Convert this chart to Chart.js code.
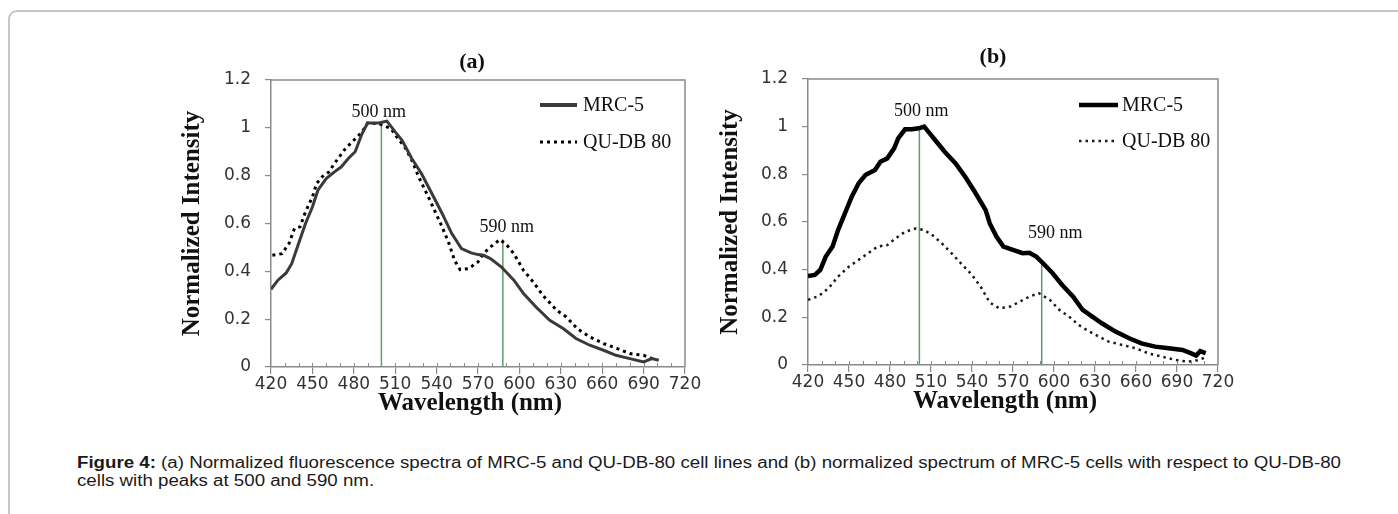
<!DOCTYPE html>
<html>
<head>
<meta charset="utf-8">
<script src="https://cdn.jsdelivr.net/npm/chart.js@4.4.1/dist/chart.umd.min.js"></script>
<style>
html,body{margin:0;padding:0;background:#fff;width:1398px;height:514px;overflow:hidden;}
#frame{position:absolute;left:8px;top:10px;width:1430px;height:600px;border:2px solid #c6c6c6;border-radius:9px;box-sizing:border-box;}
.panel{position:absolute;top:20px;height:400px;}
#pa{left:150px;width:560px;}
#pb{left:680px;width:590px;}
#caption{position:absolute;left:77px;top:454px;font-family:"Liberation Sans",Arial,sans-serif;font-size:16px;line-height:18px;color:#1a1a1a;white-space:nowrap;transform:scaleX(1.168);transform-origin:0 0;}
</style>
</head>
<body>
<div id="frame"></div>
<div class="panel" id="pa"><canvas id="ca" width="560" height="400"></canvas></div>
<div class="panel" id="pb"><canvas id="cb" width="590" height="400"></canvas></div>
<div id="caption"><b>Figure 4:</b> (a) Normalized fluorescence spectra of MRC-5 and QU-DB-80 cell lines and (b) normalized spectrum of MRC-5 cells with respect to QU-DB-80<br>cells with peaks at 500 and 590 nm.</div>
<script>
// ---------------- data ----------------
const panelTitles = ['(a)', '(b)'];
const seriesNames = ['MRC-5', 'QU-DB 80'];
const xTickLabels = [420, 450, 480, 510, 540, 570, 600, 630, 660, 690, 720];
const yTickLabels = ['0', '0.2', '0.4', '0.6', '0.8', '1', '1.2'];
const xTitle = 'Wavelength (nm)';
const yTitle = 'Normalized Intensity';
const peakLabels = ['500 nm', '590 nm'];

// panel (a) – MRC-5
const aMrcWl  = [420,425,431,435,440,445,450,454,460,466,471,476,481,486,490,498,504,510,515,522,529,536,544,551,558,565,570,574,579,587,596,603,612,622,632,641,651,661,670,680,690,696,701];
const aMrcVal = [0.325,0.363,0.393,0.432,0.516,0.600,0.669,0.739,0.788,0.816,0.837,0.872,0.900,0.976,1.020,1.020,1.028,0.983,0.948,0.872,0.809,0.732,0.642,0.558,0.495,0.477,0.470,0.467,0.453,0.418,0.363,0.307,0.251,0.195,0.160,0.119,0.091,0.070,0.049,0.035,0.021,0.035,0.028];
// panel (a) – QU-DB 80
const aQuWl  = [421,428,433,437,441,445,450,453,457,462,466,474,480,486,490,498,507,512,517,522,527,534,539,544,549,553,557,563,570,574,579,586,591,596,603,610,617,627,634,642,651,661,671,680,690,698];
const aQuVal = [0.467,0.474,0.516,0.579,0.586,0.649,0.711,0.767,0.795,0.816,0.851,0.914,0.948,0.983,1.020,1.018,0.997,0.955,0.920,0.865,0.795,0.711,0.649,0.586,0.516,0.446,0.407,0.411,0.439,0.474,0.502,0.533,0.509,0.474,0.404,0.356,0.300,0.237,0.209,0.160,0.126,0.098,0.077,0.056,0.049,0.031];
// panel (b) – MRC-5
const bMrcWl  = [420,425,429,433,438,442,447,452,457,462,469,473,478,483,486,491,496,501,505,508,513,520,528,535,542,550,553,558,563,570,577,582,587,592,599,606,614,621,628,635,645,655,664,674,684,694,700,704,707,711];
const bMrcVal = [0.373,0.378,0.399,0.455,0.497,0.566,0.636,0.706,0.762,0.797,0.818,0.853,0.867,0.909,0.951,0.989,0.989,0.993,1.000,0.979,0.944,0.895,0.846,0.790,0.727,0.650,0.594,0.538,0.497,0.483,0.469,0.471,0.455,0.427,0.385,0.336,0.287,0.231,0.203,0.175,0.140,0.112,0.091,0.077,0.070,0.063,0.050,0.040,0.058,0.050];
// panel (b) – QU-DB 80
const bQuWl  = [420,428,435,442,450,457,464,471,478,484,491,499,505,511,518,525,533,540,547,553,560,568,575,582,589,597,604,611,618,626,633,640,650,660,669,679,689,698,705,710];
const bQuVal = [0.273,0.290,0.322,0.371,0.413,0.441,0.469,0.497,0.503,0.531,0.559,0.573,0.566,0.545,0.510,0.469,0.420,0.378,0.322,0.262,0.238,0.245,0.266,0.287,0.301,0.273,0.231,0.203,0.168,0.140,0.119,0.098,0.084,0.070,0.049,0.035,0.021,0.014,0.020,0.030];
// peak marker lines (wavelength, height)
const aPeakWl = [500, 588], aPeakTop = [1.02, 0.533];
const bPeakWl = [501.5, 591], bPeakTop = [0.995, 0.434];

// ---------------- helpers ----------------
const pts = (xs, ys) => xs.map((x, i) => ({x: x, y: ys[i]}));
const vline = (x, top) => [{x: x, y: 0}, {x: x, y: top}];
const AX = '#8a8a8a';
const GREEN = '#5e9c6e';

const decoPlugin = {
  id: 'deco',
  afterDraw(chart, args, o) {
    const {ctx, chartArea: a, scales: {x, y}} = chart;
    ctx.save();
    // frame top & right
    ctx.strokeStyle = AX; ctx.lineWidth = 1.5;
    ctx.beginPath();
    ctx.moveTo(a.left, a.top); ctx.lineTo(a.right, a.top); ctx.lineTo(a.right, a.bottom);
    ctx.stroke();
    // minor ticks every 10 nm (inside)
    ctx.lineWidth = 1;
    ctx.beginPath();
    for (let v = x.min + 10; v < x.max; v += 10) {
      const px = Math.round(x.getPixelForValue(v)) + 0.5;
      ctx.moveTo(px, a.bottom); ctx.lineTo(px, a.bottom - 4);
    }
    ctx.stroke();
    ctx.fillStyle = '#111';
    ctx.textAlign = 'center'; ctx.textBaseline = 'middle';
    // panel title
    ctx.font = 'bold 22px "Liberation Serif", serif';
    ctx.fillText(o.title, (a.left + a.right) / 2 + o.titleDx, a.top + o.titleDy);
    // x title
    ctx.font = 'bold 25px "Liberation Serif", serif';
    ctx.fillText(xTitle, (a.left + a.right) / 2 - 8, a.bottom + 37);
    // y title
    ctx.save();
    ctx.translate(a.left + o.yTitleDx, (a.top + a.bottom) / 2);
    ctx.rotate(-Math.PI / 2);
    ctx.fillText(yTitle, 0, 0);
    ctx.restore();
    // peak labels
    ctx.font = '18px "Liberation Serif", serif';
    o.peaks.forEach((p, i) => {
      ctx.fillText(peakLabels[i], x.getPixelForValue(p[0]), y.getPixelForValue(p[1]));
    });
    // legend
    ctx.font = '20px "Liberation Serif", serif';
    ctx.textAlign = 'left';
    chart.data.datasets.filter(d => d.inLegend).forEach((d, i) => {
      const ly = a.top + o.legendRows[i];
      ctx.save();
      ctx.strokeStyle = d.borderColor;
      ctx.lineWidth = d.legendWidth || d.borderWidth;
      ctx.setLineDash(d.borderDash || []);
      ctx.beginPath();
      ctx.moveTo(a.right + o.legendLine[0], ly);
      ctx.lineTo(a.right + o.legendLine[1], ly);
      ctx.stroke();
      ctx.restore();
      ctx.fillText(d.label, a.right + o.legendText, ly + 1);
    });
    ctx.restore();
  }
};

function makeChart(id, datasets, pad, yW, xH, deco) {
  return new Chart(document.getElementById(id), {
    type: 'line',
    data: {datasets: datasets},
    plugins: [decoPlugin],
    options: {
      responsive: false,
      animation: false,
      events: [],
      layout: {padding: pad},
      elements: {point: {radius: 0}, line: {tension: 0}},
      plugins: {legend: {display: false}, tooltip: {enabled: false}, deco: deco},
      scales: {
        x: {
          type: 'linear', min: 420, max: 720,
          afterFit: s => { s.height = xH; },
          ticks: {stepSize: 30, autoSkip: false, maxRotation: 0, padding: 0,
                  color: '#333', font: {family: 'DejaVu Sans', size: 17},
                  callback: v => xTickLabels.includes(v) ? String(v) : ''},
          grid: {drawOnChartArea: false, drawTicks: true, tickLength: 7, color: AX, lineWidth: 1.2},
          border: {display: true, color: AX, width: 1.5}
        },
        y: {
          type: 'linear', min: 0, max: 1.2,
          afterFit: s => { s.width = yW; },
          ticks: {stepSize: 0.2, padding: 14, color: '#333', font: {family: 'DejaVu Sans', size: 17},
                  callback: (v, i) => yTickLabels[i]},
          grid: {drawOnChartArea: false, drawTicks: true, tickLength: 6, color: AX, lineWidth: 1.2},
          border: {display: true, color: AX, width: 1.5}
        }
      }
    }
  });
}

makeChart('ca', [
  {label: seriesNames[0], inLegend: true, data: pts(aMrcWl, aMrcVal), borderColor: '#3a3a3a', borderWidth: 3, legendWidth: 4},
  {label: seriesNames[1], inLegend: true, data: pts(aQuWl, aQuVal), borderColor: '#000', borderWidth: 3, borderDash: [3, 4], borderCapStyle: 'butt'},
  {label: 'p1', data: vline(aPeakWl[0], aPeakTop[0]), borderColor: GREEN, borderWidth: 1.5},
  {label: 'p2', data: vline(aPeakWl[1], aPeakTop[1]), borderColor: GREEN, borderWidth: 1.5}
], {left: 0, top: 60, right: 25, bottom: 0}, 121, 53, {
  title: panelTitles[0], titleDx: -6, titleDy: -18, yTitleDx: -78,
  peaks: [[498, 1.067], [590.8, 0.586]],
  legendLine: [-145, -108], legendText: -102, legendRows: [25, 62]
});

makeChart('cb', [
  {label: seriesNames[0], inLegend: true, data: pts(bMrcWl, bMrcVal), borderColor: '#000', borderWidth: 4.5},
  {label: seriesNames[1], inLegend: true, data: pts(bQuWl, bQuVal), borderColor: '#1a1a1a', borderWidth: 2.5, borderDash: [2.5, 4], borderCapStyle: 'butt'},
  {label: 'p1', data: vline(bPeakWl[0], bPeakTop[0]), borderColor: GREEN, borderWidth: 1.5},
  {label: 'p2', data: vline(bPeakWl[1], bPeakTop[1]), borderColor: GREEN, borderWidth: 1.5}
], {left: 0, top: 59, right: 52, bottom: 0}, 128, 55, {
  title: panelTitles[1], titleDx: -20, titleDy: -22, yTitleDx: -77,
  peaks: [[502.9, 1.065], [601, 0.553]],
  legendLine: [-139, -100], legendText: -96, legendRows: [26, 62]
});
</script>
</body>
</html>
